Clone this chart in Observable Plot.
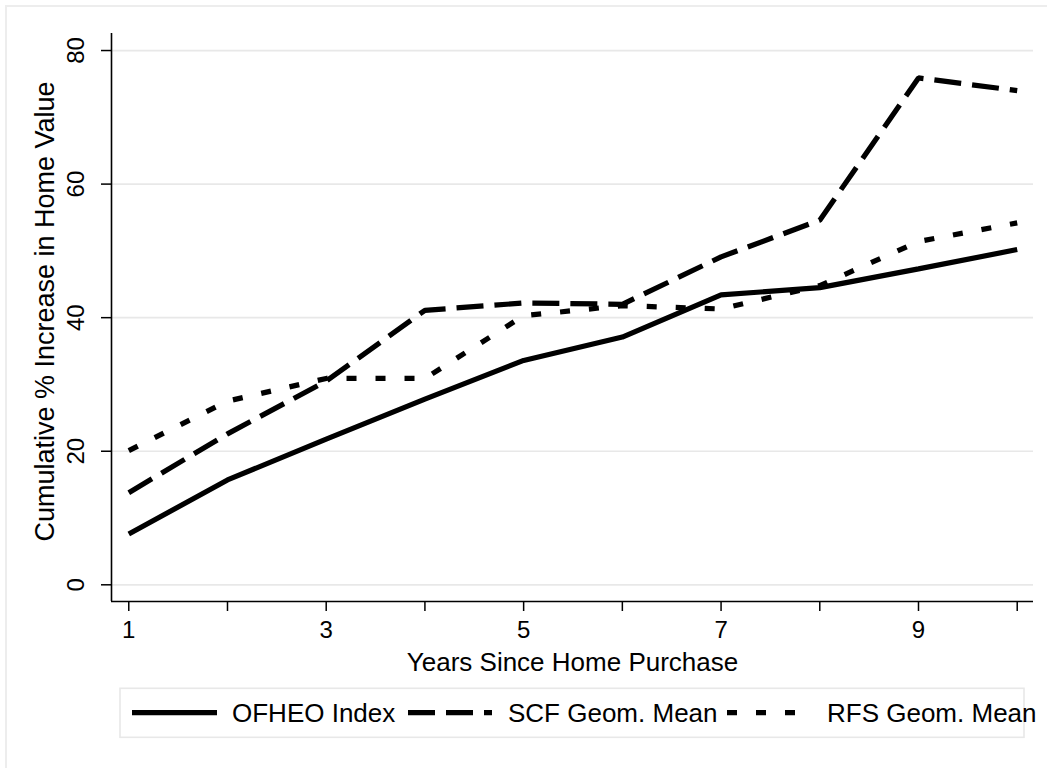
<!DOCTYPE html>
<html><head><meta charset="utf-8">
<script src="https://cdn.jsdelivr.net/npm/d3@7"></script>
<script src="https://cdn.jsdelivr.net/npm/@observablehq/plot@0.6"></script>
<style>
html,body{margin:0;padding:0;background:#fff;}
#wrap{position:relative;width:1047px;height:768px;overflow:hidden;font-family:"Liberation Sans",Arial,sans-serif;background:#fff;}
#frame{position:absolute;left:5px;top:5px;right:-20px;bottom:-20px;border-top:2px solid #ededed;border-left:2px solid #ededed;}
#chart{position:absolute;left:0;top:0;}
#legend{position:absolute;left:0;top:680px;}
</style></head><body>
<div id="wrap"><div id="frame"></div><div id="chart"></div><div id="legend"></div></div>
<script>
// ---- data ----
const years = [1, 2, 3, 4, 5, 6, 7, 8, 9, 10];
const ofheo = [7.6, 15.7, 21.8, 27.8, 33.6, 37.1, 43.4, 44.5, 47.3, 50.2];
const scf   = [13.8, 22.6, 30.5, 41.1, 42.2, 42.0, 49.1, 54.6, 75.9, 74.0];
const rfs   = [20.1, 27.5, 30.9, 30.9, 40.3, 41.8, 41.3, 44.8, 51.4, 54.2];
const seriesNames = ["OFHEO Index", "SCF Geom. Mean", "RFS Geom. Mean"];
const yTicks = [0, 20, 40, 60, 80];
const xTicks = years;
const xTickLabels = ["1", "", "3", "", "5", "", "7", "", "9", ""];
const xTitle = "Years Since Home Purchase";
const yTitle = "Cumulative % Increase in Home Value";

// ---- styles ----
const FONT = "'Liberation Sans', Arial, sans-serif";
const dashes = ["none", "27,11", "10,19"];
const xDomain = [0.825, 10.165];
const yDomain = [-2.5, 82.55];

const toRows = (vals, name) => years.map((x, i) => ({x, y: vals[i], series: name}));
const rowsO = toRows(ofheo, seriesNames[0]);
const rowsS = toRows(scf, seriesNames[1]);
const rowsR = toRows(rfs, seriesNames[2]);

const lineOpts = (dash) => ({x: "x", y: "y", stroke: "black", strokeWidth: 5.2,
  strokeLinecap: "butt", strokeLinejoin: "miter", strokeDasharray: dash === "none" ? undefined : dash});

const chart = Plot.plot({
  width: 1047, height: 680,
  marginLeft: 111, marginRight: 14, marginTop: 33, marginBottom: 79,
  x: {domain: xDomain},
  y: {domain: yDomain},
  style: {fontFamily: FONT, fontSize: "24px", color: "black", background: "transparent", overflow: "visible"},
  marks: [
    Plot.gridY(yTicks, {stroke: "#e8e8e8", strokeOpacity: 1, strokeWidth: 1.7}),
    Plot.axisY(yTicks, {tickSize: 10, tickPadding: 18, tickRotate: -90, textAnchor: "middle",
      lineAnchor: "bottom", label: null, stroke: "black", strokeWidth: 1.5, fontSize: 24}),
    Plot.axisX(xTicks, {tickSize: 10, tickPadding: 9.5, tickFormat: (d, i) => xTickLabels[i],
      label: null, stroke: "black", strokeWidth: 1.5, fontSize: 24}),
    Plot.ruleX([xDomain[0]], {stroke: "black", strokeWidth: 1.6}),
    Plot.ruleY([yDomain[0]], {stroke: "black", strokeWidth: 1.6}),
    Plot.text([xTitle], {frameAnchor: "bottom", dy: 60.7, text: d => d, fontSize: 26,
      lineAnchor: "middle", textAnchor: "middle", fill: "black"}),
    Plot.text([yTitle], {frameAnchor: "left", dx: -66.3, dy: -6, rotate: -90, text: d => d, fontSize: 27,
      lineAnchor: "middle", textAnchor: "middle", fill: "black"}),
    Plot.line(rowsO, lineOpts(dashes[0])),
    Plot.line(rowsS, lineOpts(dashes[1])),
    Plot.line(rowsR, lineOpts(dashes[2]))
  ]
});
document.getElementById("chart").appendChild(chart);

// ---- legend (below the plot svg) ----
const legendLayout = {box: [120, 8.3, 904, 49], keyY: 32.7, baseY: 41.7,
  keys: [[132, 217], [408, 492], [727, 811]], texts: [232, 508, 827]};
const lsvg = d3.select("#legend").append("svg")
  .attr("width", 1047).attr("height", 88).style("overflow", "visible");
lsvg.append("rect").attr("x", legendLayout.box[0]).attr("y", legendLayout.box[1])
  .attr("width", legendLayout.box[2]).attr("height", legendLayout.box[3])
  .attr("fill", "white").attr("stroke", "#e8e8e8").attr("stroke-width", 1.6);
seriesNames.forEach((name, i) => {
  const [x1, x2] = legendLayout.keys[i];
  lsvg.append("line").attr("x1", x1).attr("x2", x2)
    .attr("y1", legendLayout.keyY).attr("y2", legendLayout.keyY)
    .attr("stroke", "black").attr("stroke-width", 5.2)
    .attr("stroke-dasharray", dashes[i] === "none" ? null : dashes[i]);
  lsvg.append("text").attr("x", legendLayout.texts[i]).attr("y", legendLayout.baseY)
    .attr("font-family", FONT).attr("font-size", 26).attr("fill", "black").text(name);
});
</script>
</body></html>
